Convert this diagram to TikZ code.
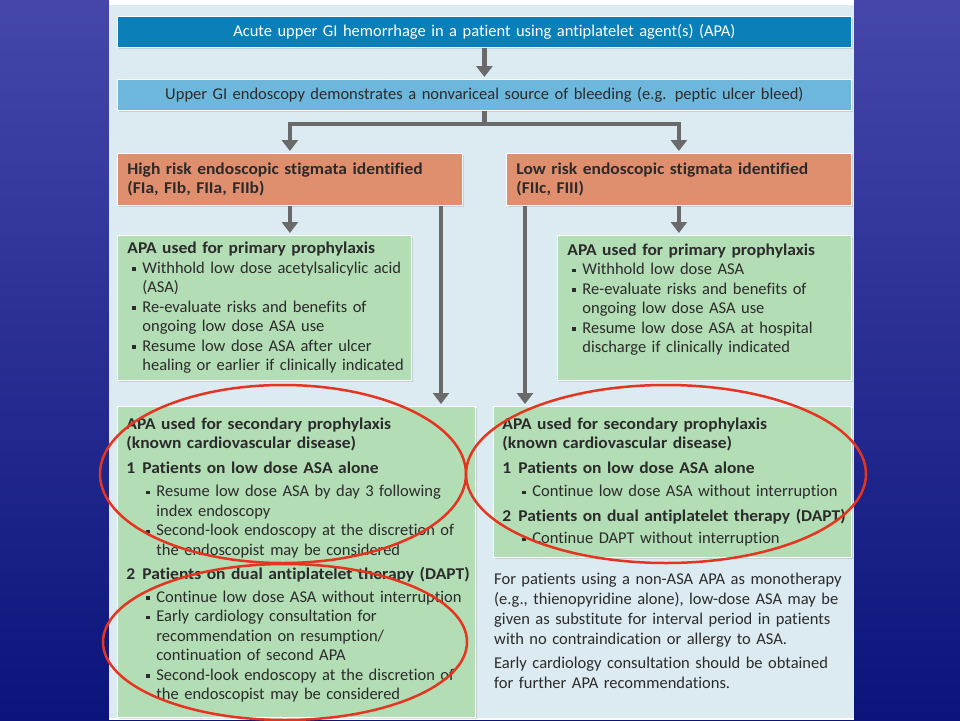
\documentclass[tikz,border=0pt]{standalone}
\usepackage{fontspec}
\setmainfont{Carlito}[Ligatures=NoCommon,BoldFeatures={FakeStretch=1.06}]
\usetikzlibrary{arrows.meta,shadows}

\definecolor{slidetop}{HTML}{4646AA}
\definecolor{slidebot}{HTML}{0A147A}
\definecolor{panel}{HTML}{DCEAF1}
\definecolor{titleblue}{HTML}{0B80B8}
\definecolor{lightblue}{HTML}{6DB6DC}
\definecolor{riskorange}{HTML}{E08F6E}
\definecolor{apagreen}{HTML}{B3DDB5}
\definecolor{ink}{HTML}{2B2B2B}
\definecolor{linkgray}{HTML}{6A6A6A}
\definecolor{ringred}{HTML}{E5341F}

% bullets and indents used inside the boxes
\newcommand{\sqb}{\rule[2.2pt]{3.8pt}{3.8pt}}
\newcommand{\bul}{\hspace*{5pt}\makebox[10pt][l]{\sqb}}
\newcommand{\cont}{\hspace*{15pt}}
\newcommand{\numi}[1]{\makebox[16pt][l]{#1}}
\newcommand{\subb}{\hspace*{20pt}\makebox[10pt][l]{\sqb}}
\newcommand{\subc}{\hspace*{30pt}}

\begin{document}
\begin{tikzpicture}[x=1pt,y=-1pt,
  box/.style={anchor=north west,draw=white,line width=0.8pt,inner xsep=10pt,inner ysep=0pt,
    font=\fontsize{16.5}{19.5}\selectfont,text=ink,
    drop shadow={opacity=0.25,shadow xshift=1.5pt,shadow yshift=-1.5pt}},
  longlines/.style={execute at begin node={\rightskip=-40pt plus 1fil}},
  wide box/.style={box,minimum width=734pt,minimum height=31pt,text width=714pt,align=center},
  risk box/.style={box,longlines,fill=riskorange,minimum height=52pt,text width=325pt,align=left,
    font=\fontsize{16.5}{19.5}\selectfont\bfseries},
  apa box/.style={box,longlines,fill=apagreen,align=left},
  link/.style={draw=linkgray,line width=4.5pt},
  arrow/.style={link,-{Triangle[width=16pt,length=11pt]},shorten >=2pt},
  ring/.style={draw=ringred,line width=2.5pt}]

  % slide and panel
  \shade[top color=slidetop,bottom color=slidebot] (0,0) rectangle (960,720);
  \fill[white] (109,0) rectangle (854,720);
  \fill[panel] (109,5) rectangle (854,718);
  \useasboundingbox (0,0) rectangle (960,720);

  \node[wide box,fill=titleblue,text=white] (acute) at (117,16)
    {Acute upper GI hemorrhage in a patient using antiplatelet agent(s) (APA)};
  \node[wide box,fill=lightblue] (endo) at (117,79)
    {Upper GI endoscopy demonstrates a nonvariceal source of bleeding (e.g. peptic ulcer bleed)};

  \node[risk box] (high) at (117,153)
    {High risk endoscopic stigmata identified\\(FIa, FIb, FIIa, FIIb)};
  \node[risk box] (low) at (506,153)
    {Low risk endoscopic stigmata identified\\(FIIc, FIII)};

  \node[apa box,minimum height=145pt,text width=274pt] (hprim) at (117,235)
    {\textbf{APA used for primary prophylaxis}\\
     \bul Withhold low dose acetylsalicylic acid\\
     \cont (ASA)\\
     \bul Re-evaluate risks and benefits of\\
     \cont ongoing low dose ASA use\\
     \bul Resume low dose ASA after ulcer\\
     \cont healing or earlier if clinically indicated};
  \node[apa box,minimum height=145pt,text width=274pt] (lprim) at (557,235)
    {\textbf{APA used for primary prophylaxis}\\
     \bul Withhold low dose ASA\\
     \bul Re-evaluate risks and benefits of\\
     \cont ongoing low dose ASA use\\
     \bul Resume low dose ASA at hospital\\
     \cont discharge if clinically indicated\\
     \mbox{}};

  \node[apa box,minimum height=311pt,text width=340pt,inner xsep=9pt] (hsec) at (117,406)
    {\textbf{APA used for secondary prophylaxis}\\
     \textbf{(known cardiovascular disease)}\\[5pt]
     \textbf{\numi{1}Patients on low dose ASA alone}\\[4pt]
     \subb Resume low dose ASA by day 3 following\\
     \subc index endoscopy\\
     \subb Second-look endoscopy at the discretion of\\
     \subc the endoscopist may be considered\\[5pt]
     \textbf{\numi{2}Patients on dual antiplatelet therapy (DAPT)}\\[3pt]
     \subb Continue low dose ASA without interruption\\
     \subb Early cardiology consultation for\\
     \subc recommendation on resumption/\\
     \subc continuation of second APA\\
     \subb Second-look endoscopy at the discretion of\\
     \subc the endoscopist may be considered\\[-13pt]
     \mbox{}};
  \node[apa box,minimum height=151pt,text width=340pt,inner xsep=9pt] (lsec) at (493,406)
    {\textbf{APA used for secondary prophylaxis}\\
     \textbf{(known cardiovascular disease)}\\[5pt]
     \textbf{\numi{1}Patients on low dose ASA alone}\\[4pt]
     \subb Continue low dose ASA without interruption\\[5pt]
     \textbf{\numi{2}Patients on dual antiplatelet therapy (DAPT)}\\[3pt]
     \subb Continue DAPT without interruption};

  \node[anchor=north west,inner sep=0pt,text width=358pt,align=left,longlines,
    font=\fontsize{16.5}{20}\selectfont,text=ink] (note) at (494,573)
    {For patients using a non-ASA APA as monotherapy\\
     (e.g., thienopyridine alone), low-dose ASA may be\\
     given as substitute for interval period in patients\\
     with no contraindication or allergy to ASA.\\[4pt]
     Early cardiology consultation should be obtained\\
     for further APA recommendations.};

  % connectors
  \coordinate (split) at (483,124);
  \coordinate (hright) at (441,0);
  \coordinate (lleft) at (525,0);
  \draw[link] (endo.south) -- (endo.south |- split);
  \draw[arrow] (split) -| (high.north);
  \draw[arrow] (split) -| (low.north);
  \draw[arrow] (acute.south) -- (endo.north);
  \draw[arrow] (high.south) -- (high.south |- hprim.north);
  \draw[arrow] (high.south -| hright) -- (hsec.north -| hright);
  \draw[arrow] (low.south) -- (low.south |- lprim.north);
  \draw[arrow] (low.south -| lleft) -- (lsec.north -| lleft);

  % red rings
  \draw[ring] (283,474) ellipse [x radius=183pt,y radius=89pt];
  \draw[ring] (285,642) ellipse [x radius=182pt,y radius=78pt];
  \draw[ring] (666,474) ellipse [x radius=200pt,y radius=89pt];
\end{tikzpicture}
\end{document}
